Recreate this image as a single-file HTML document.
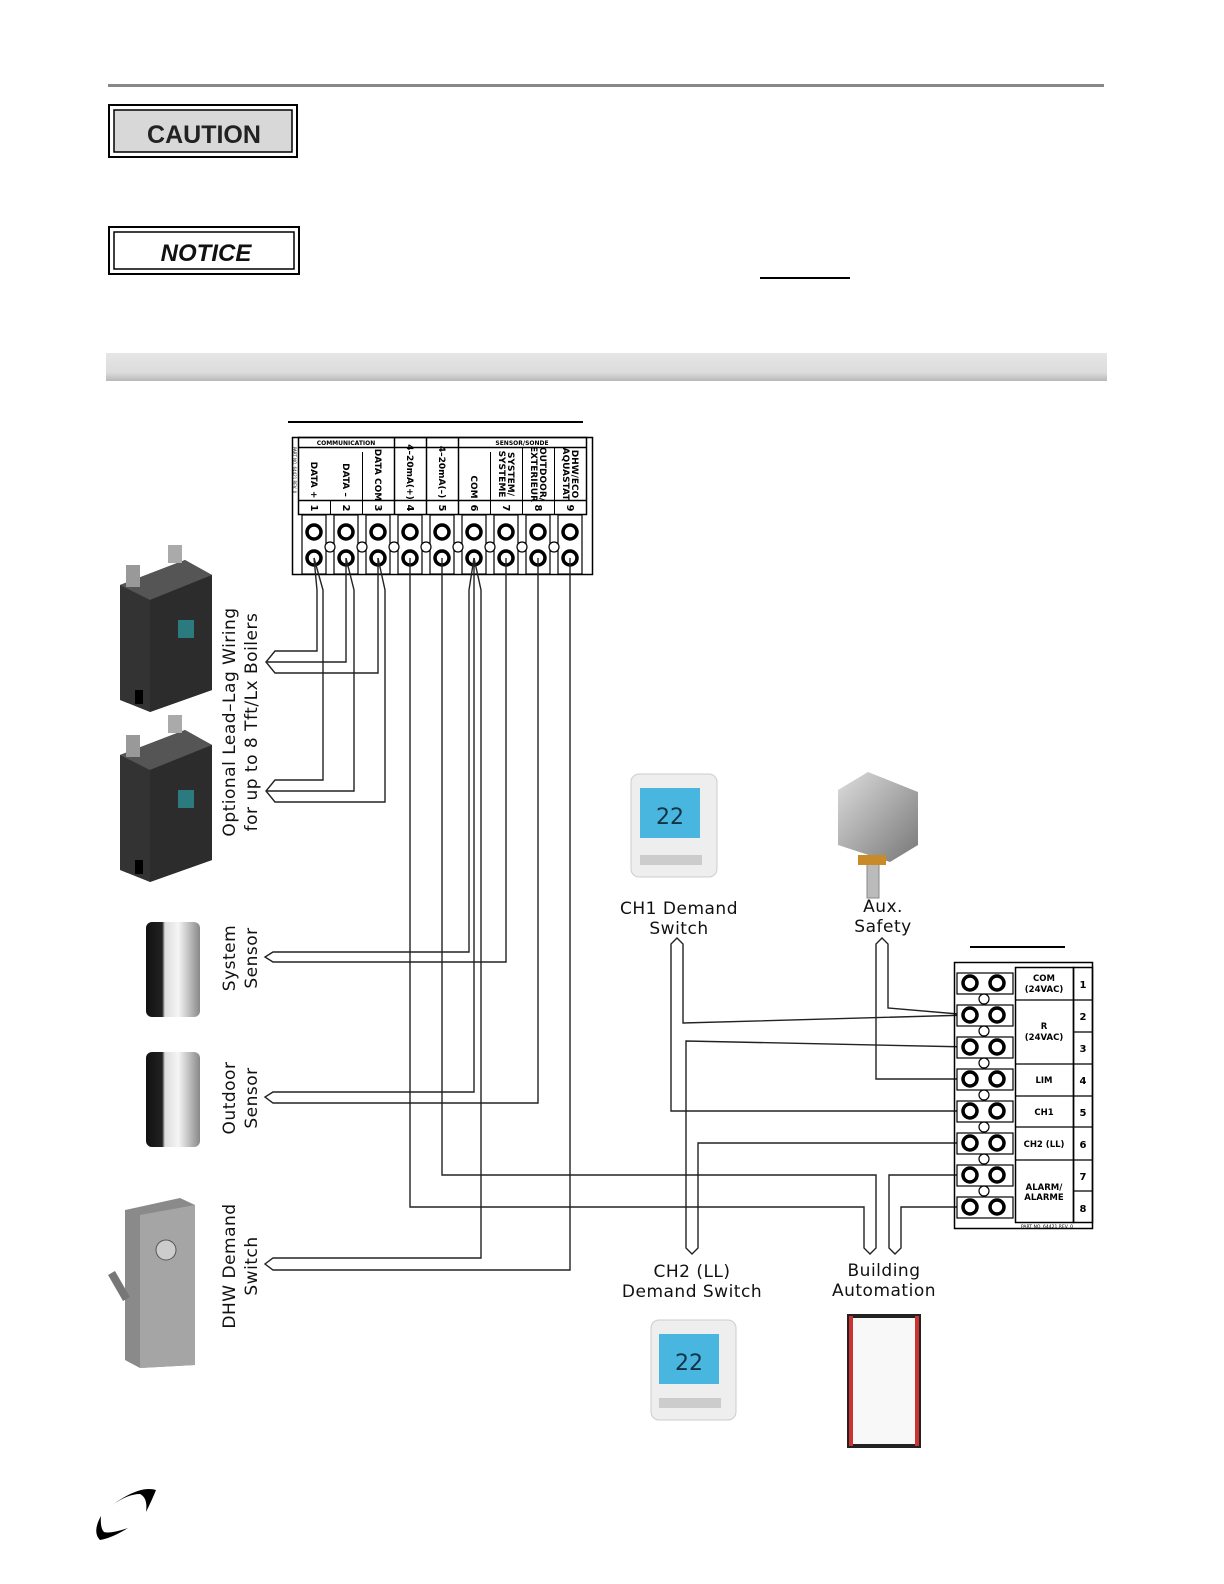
<!DOCTYPE html>
<html><head><meta charset="utf-8"><style>
html,body{margin:0;padding:0;background:#fff;overflow:hidden;width:1224px;height:1584px;}
svg{display:block;}
text{font-family:"DejaVu Sans","Liberation Sans",sans-serif;}
.b{font-family:"Liberation Sans",sans-serif;font-weight:bold;}
</style></head><body>
<svg width="1224" height="1584" viewBox="0 0 1224 1584" xmlns="http://www.w3.org/2000/svg">
<defs>
<linearGradient id="bar" x1="0" y1="0" x2="0" y2="1"><stop offset="0" stop-color="#e6e6e6"/><stop offset="0.7" stop-color="#dcdcdc"/><stop offset="1" stop-color="#b8b8b8"/></linearGradient>
<linearGradient id="cyl" x1="0" y1="0" x2="1" y2="0"><stop offset="0" stop-color="#111"/><stop offset="0.3" stop-color="#222"/><stop offset="0.35" stop-color="#ddd"/><stop offset="0.6" stop-color="#f5f5f5"/><stop offset="1" stop-color="#888"/></linearGradient>
<linearGradient id="box" x1="0" y1="0" x2="1" y2="1"><stop offset="0" stop-color="#ddd"/><stop offset="1" stop-color="#777"/></linearGradient>
</defs>
<!-- header -->
<rect x="108" y="84" width="996" height="3" fill="#888"/>
<rect x="109" y="105" width="188" height="52" fill="none" stroke="#000" stroke-width="2"/>
<rect x="114" y="110" width="178" height="42" fill="#d8d8d8" stroke="#000" stroke-width="1.5"/>
<text x="204" y="143" text-anchor="middle" font-size="25" class="b" fill="#222">CAUTION</text>
<rect x="109" y="227" width="190" height="47" fill="none" stroke="#000" stroke-width="2"/>
<rect x="114" y="232" width="180" height="37" fill="#fff" stroke="#000" stroke-width="1.5"/>
<text x="206" y="261" text-anchor="middle" font-size="24" class="b" font-style="italic" fill="#111">NOTICE</text>
<rect x="760" y="277" width="90" height="2" fill="#000"/>
<rect x="106" y="353" width="1001" height="28" fill="url(#bar)"/>
<rect x="288" y="421" width="295" height="2" fill="#000"/>
<rect x="970" y="946" width="95" height="2" fill="#000"/>

<!-- top terminal block -->
<g stroke="#000" fill="none">
<rect x="292.5" y="437.5" width="300" height="137" stroke-width="1.5"/>
<rect x="298.5" y="437.5" width="288" height="77" stroke-width="1.5"/>
<line x1="298" y1="447.5" x2="586" y2="447.5" stroke-width="1.5"/>
<line x1="298" y1="500.5" x2="586" y2="500.5" stroke-width="1.5"/>
<line x1="394.5" y1="437" x2="394.5" y2="515" stroke-width="1.5"/>
<line x1="426.5" y1="437" x2="426.5" y2="515" stroke-width="1.5"/>
<line x1="458.5" y1="437" x2="458.5" y2="515" stroke-width="1.5"/>
<line x1="362.5" y1="452" x2="362.5" y2="515"/>
<line x1="490.5" y1="452" x2="490.5" y2="515"/>
<line x1="522.5" y1="447" x2="522.5" y2="515"/>
<line x1="554.5" y1="447" x2="554.5" y2="515"/>
<line x1="330.5" y1="500" x2="330.5" y2="515"/>
</g>
<g font-size="6" class="b" text-anchor="middle"><text x="346" y="445">COMMUNICATION</text><text x="522" y="445">SENSOR/SONDE</text></g>
<text transform="translate(293,470) rotate(90)" font-size="4" text-anchor="middle">PART NO. 64421 REV. 0</text>
<g font-size="9" class="b" text-anchor="middle">
<text transform="translate(311,480) rotate(90)">DATA +</text>
<text transform="translate(343,480) rotate(90)">DATA  –</text>
<text transform="translate(375,475) rotate(90)">DATA COM</text>
<text transform="translate(407,472) rotate(90)">4–20mA(+)</text>
<text transform="translate(439,472) rotate(90)">4–20mA(–)</text>
<text transform="translate(471,487) rotate(90)">COM</text>
<text transform="translate(508,474) rotate(90)">SYSTEM/</text>
<text transform="translate(499,474) rotate(90)">SYSTEME</text>
<text transform="translate(540,474) rotate(90)">OUTDOOR/</text>
<text transform="translate(531,474) rotate(90)">EXTERIEUR</text>
<text transform="translate(572,474) rotate(90)">DHW/ECO</text>
<text transform="translate(563,474) rotate(90)">AQUASTAT</text>
</g>
<g font-size="10" class="b" text-anchor="middle">
<text transform="translate(311,508) rotate(90)">1</text><text transform="translate(343,508) rotate(90)">2</text><text transform="translate(375,508) rotate(90)">3</text><text transform="translate(407,508) rotate(90)">4</text><text transform="translate(439,508) rotate(90)">5</text><text transform="translate(471,508) rotate(90)">6</text><text transform="translate(503,508) rotate(90)">7</text><text transform="translate(535,508) rotate(90)">8</text><text transform="translate(567,508) rotate(90)">9</text>
</g>
<g stroke="#000" fill="#fff">
<g stroke-width="1.2">
<rect x="302" y="515" width="24" height="59"/><rect x="334" y="515" width="24" height="59"/><rect x="366" y="515" width="24" height="59"/><rect x="398" y="515" width="24" height="59"/><rect x="430" y="515" width="24" height="59"/><rect x="462" y="515" width="24" height="59"/><rect x="494" y="515" width="24" height="59"/><rect x="526" y="515" width="24" height="59"/><rect x="558" y="515" width="24" height="59"/>
<circle cx="330" cy="547" r="5"/><circle cx="362" cy="547" r="5"/><circle cx="394" cy="547" r="5"/><circle cx="426" cy="547" r="5"/><circle cx="458" cy="547" r="5"/><circle cx="490" cy="547" r="5"/><circle cx="522" cy="547" r="5"/><circle cx="554" cy="547" r="5"/>
</g>
<g stroke-width="3.5">
<circle cx="314" cy="532" r="7"/><circle cx="346" cy="532" r="7"/><circle cx="378" cy="532" r="7"/><circle cx="410" cy="532" r="7"/><circle cx="442" cy="532" r="7"/><circle cx="474" cy="532" r="7"/><circle cx="506" cy="532" r="7"/><circle cx="538" cy="532" r="7"/><circle cx="570" cy="532" r="7"/>
<circle cx="314" cy="558" r="7"/><circle cx="346" cy="558" r="7"/><circle cx="378" cy="558" r="7"/><circle cx="410" cy="558" r="7"/><circle cx="442" cy="558" r="7"/><circle cx="474" cy="558" r="7"/><circle cx="506" cy="558" r="7"/><circle cx="538" cy="558" r="7"/><circle cx="570" cy="558" r="7"/>
</g>
</g>

<!-- wires -->
<g stroke="#222" stroke-width="1.4" fill="none">
<polyline points="314,558 317,590 317,651 275,651 266,662 275,673 378,673 378,590 378,558"/>
<polyline points="266,662 346,662 346,590 346,558"/>
<polyline points="314,558 323,590 323,780 275,780 266,791 275,802 385,802 385,590 378,558"/>
<polyline points="266,791 354,791 354,590 346,558"/>
<polyline points="474,558 469,590 469,952 273,952 265,957 273,962 506,962 506,558"/>
<polyline points="474,558 474,1092 273,1092 265,1097 273,1103 538,1103 538,558"/>
<polyline points="474,558 481,590 481,1258 273,1258 265,1264 273,1270 570,1270 570,558"/>
<polyline points="410,558 410,1207 864,1207 864,1248 870,1254 876,1248 876,1175 442,1175 442,558"/>
<polyline points="970,1175 889,1175 889,1248 895,1254 901,1248 901,1207 970,1207"/>
<polyline points="970,1015 683,1023 683,944 677,938 671,944 671,1111 970,1111"/>
<polyline points="970,1015 888,1008 888,944 882,938 876,944 876,1079 970,1079"/>
<polyline points="970,1047 686,1041 686,1248 692,1254 698,1248 698,1143 970,1143"/>
</g>

<!-- right terminal block -->
<g stroke="#000" fill="none">
<rect x="954.5" y="962.5" width="138" height="266" stroke-width="1.5"/>
<rect x="1015.5" y="967.5" width="58" height="255" stroke-width="1.5"/>
<rect x="1073.5" y="967.5" width="19" height="255" stroke-width="1.5"/>
<g stroke-width="1.3">
<line x1="1015" y1="1000" x2="1073" y2="1000"/><line x1="1015" y1="1064" x2="1073" y2="1064"/><line x1="1015" y1="1096" x2="1073" y2="1096"/><line x1="1015" y1="1127" x2="1073" y2="1127"/><line x1="1015" y1="1160" x2="1073" y2="1160"/>
<line x1="1073" y1="1000" x2="1093" y2="1000"/><line x1="1073" y1="1032" x2="1093" y2="1032"/><line x1="1073" y1="1064" x2="1093" y2="1064"/><line x1="1073" y1="1096" x2="1093" y2="1096"/><line x1="1073" y1="1127" x2="1093" y2="1127"/><line x1="1073" y1="1160" x2="1093" y2="1160"/><line x1="1073" y1="1191" x2="1093" y2="1191"/>
</g>
<g stroke-width="1.2" fill="#fff">
<rect x="957" y="973" width="56" height="21"/><rect x="957" y="1005" width="56" height="21"/><rect x="957" y="1037" width="56" height="21"/><rect x="957" y="1069" width="56" height="21"/><rect x="957" y="1101" width="56" height="21"/><rect x="957" y="1133" width="56" height="21"/><rect x="957" y="1165" width="56" height="21"/><rect x="957" y="1197" width="56" height="21"/>
<circle cx="984" cy="999" r="5"/><circle cx="984" cy="1031" r="5"/><circle cx="984" cy="1063" r="5"/><circle cx="984" cy="1095" r="5"/><circle cx="984" cy="1127" r="5"/><circle cx="984" cy="1159" r="5"/><circle cx="984" cy="1191" r="5"/>
</g>
<g stroke-width="3.5" fill="#fff">
<circle cx="970" cy="983" r="7"/><circle cx="997" cy="983" r="7"/><circle cx="970" cy="1015" r="7"/><circle cx="997" cy="1015" r="7"/><circle cx="970" cy="1047" r="7"/><circle cx="997" cy="1047" r="7"/><circle cx="970" cy="1079" r="7"/><circle cx="997" cy="1079" r="7"/><circle cx="970" cy="1111" r="7"/><circle cx="997" cy="1111" r="7"/><circle cx="970" cy="1143" r="7"/><circle cx="997" cy="1143" r="7"/><circle cx="970" cy="1175" r="7"/><circle cx="997" cy="1175" r="7"/><circle cx="970" cy="1207" r="7"/><circle cx="997" cy="1207" r="7"/>
</g>
</g>
<g font-size="8.5" class="b" text-anchor="middle">
<text x="1044" y="981">COM</text><text x="1044" y="992">(24VAC)</text>
<text x="1044" y="1029">R</text><text x="1044" y="1040">(24VAC)</text>
<text x="1044" y="1083">LIM</text><text x="1044" y="1115">CH1</text><text x="1044" y="1147">CH2  (LL)</text>
<text x="1044" y="1190">ALARM/</text><text x="1044" y="1200">ALARME</text>
</g>
<g font-size="10" class="b" text-anchor="middle">
<text x="1083" y="988">1</text><text x="1083" y="1020">2</text><text x="1083" y="1052">3</text><text x="1083" y="1084">4</text><text x="1083" y="1116">5</text><text x="1083" y="1148">6</text><text x="1083" y="1180">7</text><text x="1083" y="1212">8</text>
</g>
<text x="1047" y="1228" font-size="4.5" text-anchor="middle">PART NO. 64421  REV. 0</text>

<!-- labels -->
<g font-size="17" fill="#111" letter-spacing="0.5">
<text transform="translate(235,722) rotate(-90)" text-anchor="middle">Optional  Lead–Lag  Wiring</text>
<text transform="translate(257,722) rotate(-90)" text-anchor="middle">for  up  to  8  Tft/Lx  Boilers</text>
<text transform="translate(235,958) rotate(-90)" text-anchor="middle">System</text>
<text transform="translate(257,958) rotate(-90)" text-anchor="middle">Sensor</text>
<text transform="translate(235,1098) rotate(-90)" text-anchor="middle">Outdoor</text>
<text transform="translate(257,1098) rotate(-90)" text-anchor="middle">Sensor</text>
<text transform="translate(235,1266) rotate(-90)" text-anchor="middle">DHW  Demand</text>
<text transform="translate(257,1266) rotate(-90)" text-anchor="middle">Switch</text>
</g>
<g font-size="17" fill="#111" text-anchor="middle" letter-spacing="0.5">
<text x="679" y="914">CH1  Demand</text><text x="679" y="934">Switch</text>
<text x="883" y="912">Aux.</text><text x="883" y="932">Safety</text>
<text x="692" y="1277">CH2  (LL)</text><text x="692" y="1297">Demand  Switch</text>
<text x="884" y="1276">Building</text><text x="884" y="1296">Automation</text>
</g>

<!-- boilers -->
<g>
<polygon points="120,585 185,560 212,575 212,690 150,712 120,700" fill="#333"/>
<polygon points="120,585 185,560 212,575 150,600" fill="#555"/>
<polygon points="150,600 212,575 212,690 150,712" fill="#2c2c2c"/>
<rect x="178" y="620" width="16" height="18" fill="#2a7a80"/>
<rect x="126" y="565" width="14" height="22" fill="#999"/><rect x="168" y="545" width="14" height="18" fill="#aaa"/>
<rect x="135" y="690" width="8" height="14" fill="#000"/>
<polygon points="120,755 185,730 212,745 212,860 150,882 120,870" fill="#333"/>
<polygon points="120,755 185,730 212,745 150,770" fill="#555"/>
<polygon points="150,770 212,745 212,860 150,882" fill="#2c2c2c"/>
<rect x="178" y="790" width="16" height="18" fill="#2a7a80"/>
<rect x="126" y="735" width="14" height="22" fill="#999"/><rect x="168" y="715" width="14" height="18" fill="#aaa"/>
<rect x="135" y="860" width="8" height="14" fill="#000"/>
</g>
<rect x="146" y="922" width="54" height="95" rx="6" fill="url(#cyl)"/>
<rect x="146" y="1052" width="54" height="95" rx="6" fill="url(#cyl)"/>
<polygon points="125,1210 180,1198 195,1205 195,1365 140,1368 125,1360" fill="#8a8a8a"/>
<polygon points="140,1215 195,1205 195,1365 140,1368" fill="#a5a5a5"/>
<circle cx="166" cy="1250" r="10" fill="#ccc" stroke="#555"/>
<rect x="104" y="1282" width="30" height="8" transform="rotate(60 119 1286)" fill="#777"/>
<rect x="631" y="774" width="86" height="103" rx="8" fill="#eee" stroke="#ccc"/>
<rect x="640" y="788" width="60" height="50" fill="#49b6e0"/>
<text x="670" y="824" font-size="22" text-anchor="middle" fill="#134">22</text>
<rect x="640" y="855" width="62" height="10" fill="#ccc"/>
<rect x="651" y="1320" width="85" height="100" rx="8" fill="#eee" stroke="#ccc"/>
<rect x="659" y="1334" width="60" height="50" fill="#49b6e0"/>
<text x="689" y="1370" font-size="22" text-anchor="middle" fill="#134">22</text>
<rect x="659" y="1398" width="62" height="10" fill="#ccc"/>
<polygon points="838,790 868,772 918,792 918,845 890,862 838,845" fill="url(#box)"/>
<rect x="867" y="858" width="12" height="40" fill="#bbb" stroke="#888"/>
<rect x="858" y="855" width="28" height="10" fill="#c98a2a"/>
<rect x="849" y="1316" width="70" height="130" fill="#f8f8f8" stroke="#222" stroke-width="4"/>
<rect x="849" y="1316" width="4" height="130" fill="#c33"/><rect x="915" y="1316" width="4" height="130" fill="#c33"/>
<path d="M112,1505 Q140,1485 156,1490 Q152,1500 146,1512 Q148,1498 140,1494 Q128,1494 112,1505 Z" fill="#000"/>
<path d="M101,1516 Q92,1532 100,1540 Q112,1538 128,1528 Q110,1534 104,1532 Q100,1528 101,1516 Z" fill="#000"/>
</svg>
</body></html>
